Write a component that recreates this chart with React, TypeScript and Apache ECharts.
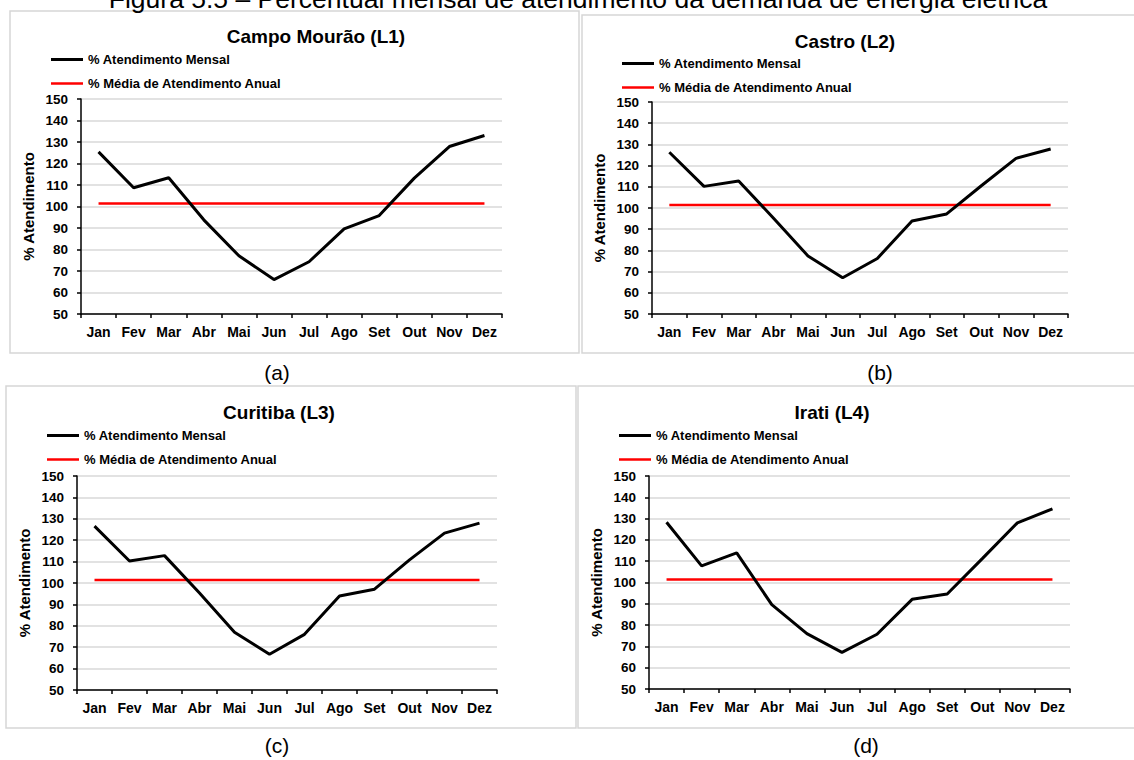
import React, { useEffect, useRef } from "react";
import * as echarts from "echarts";

// Months on the category axis
const months = ["Jan", "Fev", "Mar", "Abr", "Mai", "Jun", "Jul", "Ago", "Set", "Out", "Nov", "Dez"];

// Monthly demand fulfilment (%) per location
const campoMouraoMensal = [125.4, 108.7, 113.4, 93.8, 77.1, 66.0, 74.3, 89.6, 95.8, 113.2, 127.9, 133.0];
const castroMensal = [126.3, 110.2, 112.7, 95.3, 77.4, 67.1, 76.2, 93.9, 97.2, 110.5, 123.4, 127.8];
const curitibaMensal = [126.6, 110.3, 112.8, 95.3, 77.0, 66.7, 76.0, 93.9, 97.1, 110.8, 123.3, 128.0];
const iratiMensal = [128.3, 107.8, 113.9, 89.6, 76.0, 67.2, 75.7, 92.1, 94.6, 111.2, 128.0, 134.6];

// Annual average fulfilment (%) per location
const mediaAnual = [101.4, 101.4, 101.4, 101.4];

// Panel titles and sub-captions
const panelTitles = ["Campo Mourão (L1)", "Castro (L2)", "Curitiba (L3)", "Irati (L4)"];
const panelLetters = ["(a)", "(b)", "(c)", "(d)"];

// Y axis range
const yMin = 50;
const yMax = 150;
const yStep = 10;

const serieMensal = "% Atendimento Mensal";
const serieMedia = "% Média de Atendimento Anual";

const FONT = "'Liberation Sans', Arial, Helvetica, sans-serif";

// Layout of each panel (frame, plot area, title, legend, sub-caption)
const layouts = [
  { box: [10, 11, 569, 342], grid: [81, 99, 421, 215], title: [316, 36], legend: [51, 53], letter: [277, 372] },
  { box: [582, 15, 570, 338], grid: [652, 102, 416, 212], title: [845, 41], legend: [622, 57], letter: [880, 372] },
  { box: [6, 386, 570, 342], grid: [77, 476, 420, 214], title: [279, 412], legend: [47, 429], letter: [277, 745] },
  { box: [578, 386, 570, 342], grid: [649, 476, 421, 213], title: [832, 412], legend: [619, 429], letter: [866, 745] },
];

const seriesData = [campoMouraoMensal, castroMensal, curitibaMensal, iratiMensal];

export default function App() {
  const ref = useRef<HTMLDivElement>(null);

  useEffect(() => {
    if (!ref.current) return;
    const chart = echarts.init(ref.current, undefined, { renderer: "svg" });

    const grids: any[] = [];
    const xAxes: any[] = [];
    const yAxes: any[] = [];
    const series: any[] = [];
    const legends: any[] = [];
    const graphics: any[] = [];

    layouts.forEach((l, i) => {
      graphics.push({
        type: "rect",
        shape: { x: l.box[0], y: l.box[1], width: l.box[2], height: l.box[3] },
        style: { fill: "none", stroke: "#d6d6d6", lineWidth: 1.5 },
        z: 0,
      });
      graphics.push({
        type: "text",
        x: l.title[0],
        y: l.title[1],
        style: {
          text: panelTitles[i],
          font: `bold 19px ${FONT}`,
          fill: "#000",
          textAlign: "center",
          textVerticalAlign: "middle",
        },
      });
      graphics.push({
        type: "text",
        x: l.letter[0],
        y: l.letter[1],
        style: {
          text: panelLetters[i],
          font: `21px ${FONT}`,
          fill: "#000",
          textAlign: "center",
          textVerticalAlign: "middle",
        },
      });

      grids.push({ left: l.grid[0], top: l.grid[1], width: l.grid[2], height: l.grid[3], containLabel: false });

      xAxes.push({
        type: "category",
        gridIndex: i,
        data: months,
        boundaryGap: true,
        axisLine: { show: true, lineStyle: { color: "#000", width: 1.5 } },
        axisTick: { show: true, interval: 0, length: 4, lineStyle: { color: "#000", width: 1.5 } },
        axisLabel: {
          interval: 0,
          hideOverlap: false,
          color: "#000",
          fontFamily: FONT,
          fontWeight: "bold",
          fontSize: 14,
          margin: 11,
        },
        splitLine: { show: false },
      });

      yAxes.push({
        type: "value",
        gridIndex: i,
        min: yMin,
        max: yMax,
        interval: yStep,
        name: "% Atendimento",
        nameLocation: "middle",
        nameGap: 45,
        nameTextStyle: { color: "#000", fontFamily: FONT, fontWeight: "bold", fontSize: 15 },
        axisLine: { show: true, lineStyle: { color: "#000", width: 1.5 } },
        axisTick: { show: true, length: 4, lineStyle: { color: "#000", width: 1.5 } },
        axisLabel: { color: "#000", fontFamily: FONT, fontWeight: "bold", fontSize: 13.5, margin: 13 },
        splitLine: { show: true, lineStyle: { color: "#d9d9d9", width: 1.5 } },
      });

      series.push({
        name: serieMensal,
        type: "line",
        xAxisIndex: i,
        yAxisIndex: i,
        data: seriesData[i],
        symbol: "none",
        lineStyle: { color: "#000", width: 3 },
        itemStyle: { color: "#000" },
        z: 3,
      });
      series.push({
        name: serieMedia,
        type: "line",
        xAxisIndex: i,
        yAxisIndex: i,
        data: months.map(() => mediaAnual[i]),
        symbol: "none",
        lineStyle: { color: "#ff0000", width: 2.5 },
        itemStyle: { color: "#ff0000" },
        z: 2,
      });

      legends.push({
        orient: "vertical",
        left: l.legend[0],
        top: l.legend[1],
        itemWidth: 32,
        itemHeight: 14,
        itemGap: 11,
        padding: 0,
        selectedMode: false,
        textStyle: { color: "#000", fontFamily: FONT, fontWeight: "bold", fontSize: 13 },
        data: [
          { name: serieMensal, icon: "path://M0,0H32V3H0Z" },
          { name: serieMedia, icon: "path://M0,0H32V2.5H0Z" },
        ],
      });
    });

    // Figure caption along the top edge
    graphics.push({
      type: "text",
      x: 578,
      y: -1,
      style: {
        text: "Figura 5.5 – Percentual mensal de atendimento da demanda de energia elétrica",
        font: `26.5px ${FONT}`,
        fill: "#000",
        textAlign: "center",
        textVerticalAlign: "middle",
      },
    });

    chart.setOption({
      animation: false,
      backgroundColor: "#fff",
      grid: grids,
      xAxis: xAxes,
      yAxis: yAxes,
      legend: legends,
      series,
      graphic: graphics,
    });

    return () => chart.dispose();
  }, []);

  return (
    <div
      ref={ref}
      style={{ position: "absolute", left: 0, top: 0, width: 1134, height: 760 }}
    />
  );
}
